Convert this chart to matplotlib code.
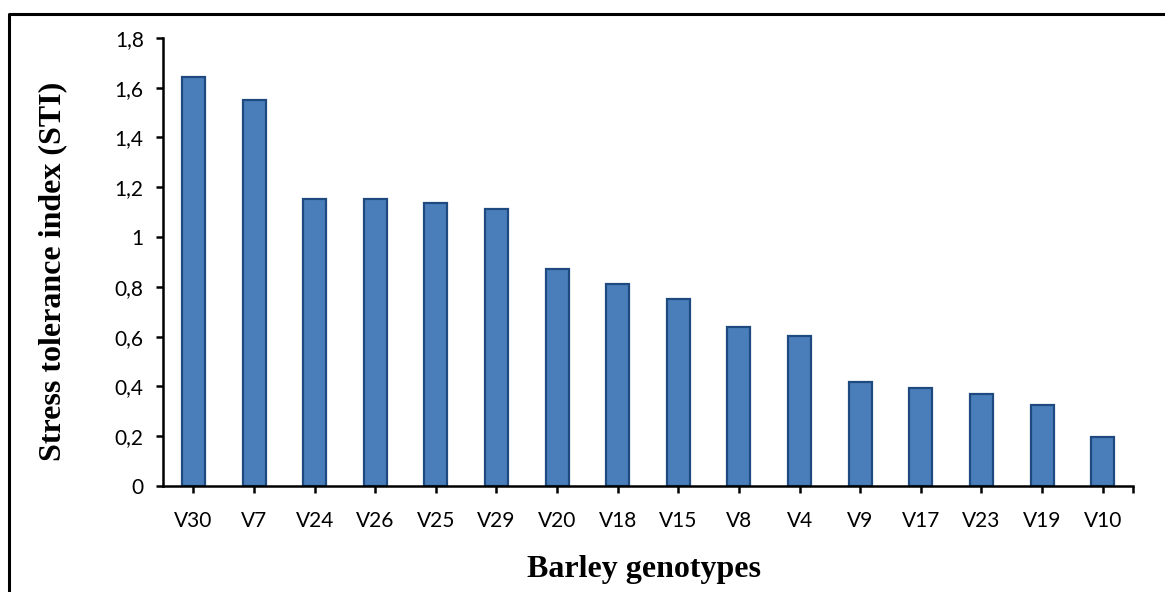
import matplotlib.pyplot as plt
from matplotlib.ticker import FuncFormatter, FixedLocator
from matplotlib.lines import Line2D

genotypes = ['V30', 'V7', 'V24', 'V26', 'V25', 'V29', 'V20', 'V18',
             'V15', 'V8', 'V4', 'V9', 'V17', 'V23', 'V19', 'V10']
sti = [1.643, 1.55, 1.153, 1.153, 1.137, 1.113, 0.872, 0.81,
       0.751, 0.639, 0.603, 0.418, 0.394, 0.37, 0.325, 0.197]

fig = plt.figure(figsize=(11.65, 5.92), dpi=100)
ax = fig.add_axes([0.14, 0.179, 0.8325, 0.757])

x = range(len(genotypes))
ax.bar(x, sti, width=0.38, color='#4a7ebb', edgecolor='#1f4a80', linewidth=1.6)

ax.set_xlim(-0.5, len(genotypes) - 0.5)
ax.set_ylim(0, 1.8)
ax.set_yticks([0, 0.2, 0.4, 0.6, 0.8, 1.0, 1.2, 1.4, 1.6, 1.8])
ax.yaxis.set_major_formatter(FuncFormatter(lambda v, p: ('%g' % round(v, 1)).replace('.', ',')))
ax.set_xticks(list(x))
ax.set_xticklabels(genotypes)
ax.xaxis.set_minor_locator(FixedLocator([len(genotypes) - 0.5]))

for s in ['top', 'right']:
    ax.spines[s].set_visible(False)
for s in ['left', 'bottom']:
    ax.spines[s].set_linewidth(1.8)
ax.tick_params(axis='both', which='both', direction='out', length=5, width=1.8, labelsize=15)
ax.tick_params(axis='x', pad=13)
ax.tick_params(axis='y', pad=9)
for lab in ax.get_xticklabels() + ax.get_yticklabels():
    lab.set_family('Lato')

ax.set_ylabel('Stress tolerance index (STI)', fontsize=23, fontweight='bold',
              family='Liberation Serif')
ax.yaxis.set_label_coords(-0.099, 0.48)
ax.set_xlabel('Barley genotypes', fontsize=23, fontweight='bold', family='Liberation Serif')
ax.xaxis.set_label_coords(0.496, -0.153)

# border round the chart area
fig.add_artist(Line2D([0.0077, 0.0077, 1.01], [-0.01, 0.9764, 0.9764],
                      transform=fig.transFigure, color='black', linewidth=2.2))

fig.savefig('out.png', dpi=100)
